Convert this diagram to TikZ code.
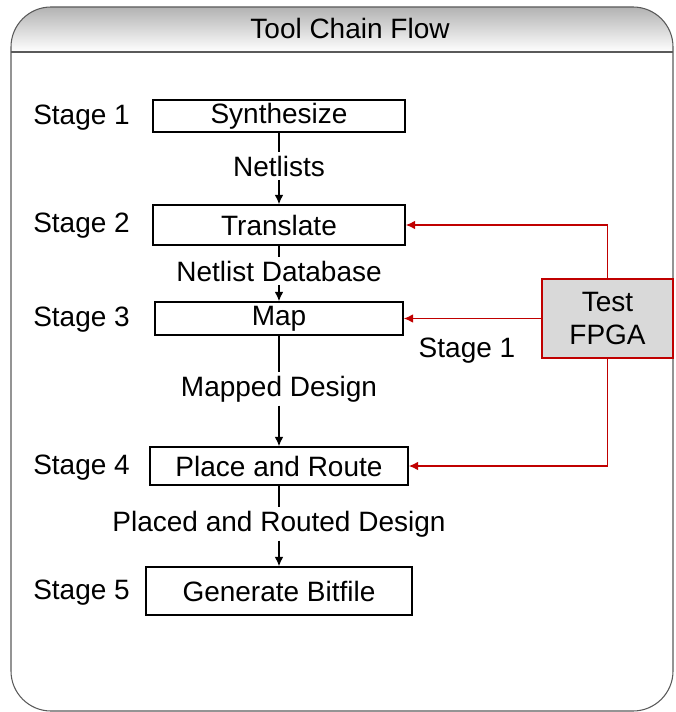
\documentclass[tikz,border=0pt]{standalone}
\usepackage{fontspec}
\setmainfont{Liberation Sans}
\usetikzlibrary{arrows.meta}
\definecolor{fpgared}{RGB}{192,0,0}
\definecolor{framegray}{RGB}{90,90,90}
\begin{document}
\begin{tikzpicture}[x=0.75pt,y=-0.75pt,
  font=\fontsize{21}{25}\selectfont,
  stagebox/.style={draw=black,line width=1.1pt,fill=white,inner sep=0pt},
  flowlabel/.style={fill=white,inner sep=2.5pt},
  stagelabel/.style={anchor=west,inner sep=0pt},
  flowarrow/.style={line width=1.1pt,-{Latex[length=7pt,width=6.5pt]}},
  flowline/.style={line width=1.1pt},
  redarrow/.style={draw=fpgared,line width=1.1pt,-{Latex[length=7pt,width=6.5pt]}},
  testbox/.style={draw=fpgared,line width=1.1pt,fill=black!15,align=center,inner sep=0pt}]
\useasboundingbox (0,0) rectangle (675,712);

% outer frame with shaded title band
\begin{scope}
  \clip[rounded corners=30pt] (11,7) rectangle (673,711);
  \shade[top color=black!30,bottom color=white] (11,7) rectangle (673,52);
\end{scope}
\draw[framegray,line width=0.8pt,rounded corners=30pt] (11,7) rectangle (673,711);
\draw[framegray,line width=0.8pt] (11,52) -- (673,52);
\node (title) at (350,28) {Tool Chain Flow};

% stage boxes
\node[stagebox,minimum width=189pt,minimum height=24pt] (synth) at (279,116) {Synthesize};
\node[stagebox,minimum width=189pt,minimum height=30pt] (trans) at (279,225) {Translate};
\node[stagebox,minimum width=186pt,minimum height=24.75pt] (map) at (279,318.5) {Map};
\node[stagebox,minimum width=193.5pt,minimum height=28.5pt] (par) at (279,466) {Place and Route};
\node[stagebox,minimum width=199.5pt,minimum height=36pt] (bit) at (279,591) {Generate Bitfile};

% stage names
\node[stagelabel] (s1) at (33,118) {Stage 1};
\node[stagelabel] (s2) at (33,226) {Stage 2};
\node[stagelabel] (s3) at (33,320) {Stage 3};
\node[stagelabel] (s4) at (33,468) {Stage 4};
\node[stagelabel] (s5) at (33,593) {Stage 5};

% data passed between stages
\node[flowlabel] (l1) at (279,166) {Netlists};
\node[flowlabel] (l2) at (279,271) {Netlist Database};
\node[flowlabel] (l3) at (279,389) {Mapped Design};
\node[flowlabel] (l4) at (279,524) {Placed and Routed Design};

\draw[flowline] (synth.south) -- (l1.north);
\draw[flowarrow] (l1.south) -- (trans.north);
\draw[flowline] (trans.south) -- (l2.north);
\draw[flowarrow] (l2.south) -- (map.north);
\draw[flowline] (map.south) -- (l3.north);
\draw[flowarrow] (l3.south) -- (par.north);
\draw[flowline] (par.south) -- (l4.north);
\draw[flowarrow] (l4.south) -- (bit.north);

% test feedback
\node[testbox,minimum width=98.25pt,minimum height=59.25pt] (test) at (607.5,318.5) {Test\\FPGA};
\draw[redarrow] (test.north) |- (trans.east);
\draw[redarrow] (test.west) -- (map.east);
\draw[redarrow] (test.south) |- (par.east);
\node (tl) at (467,351) {Stage 1};
\end{tikzpicture}
\end{document}
